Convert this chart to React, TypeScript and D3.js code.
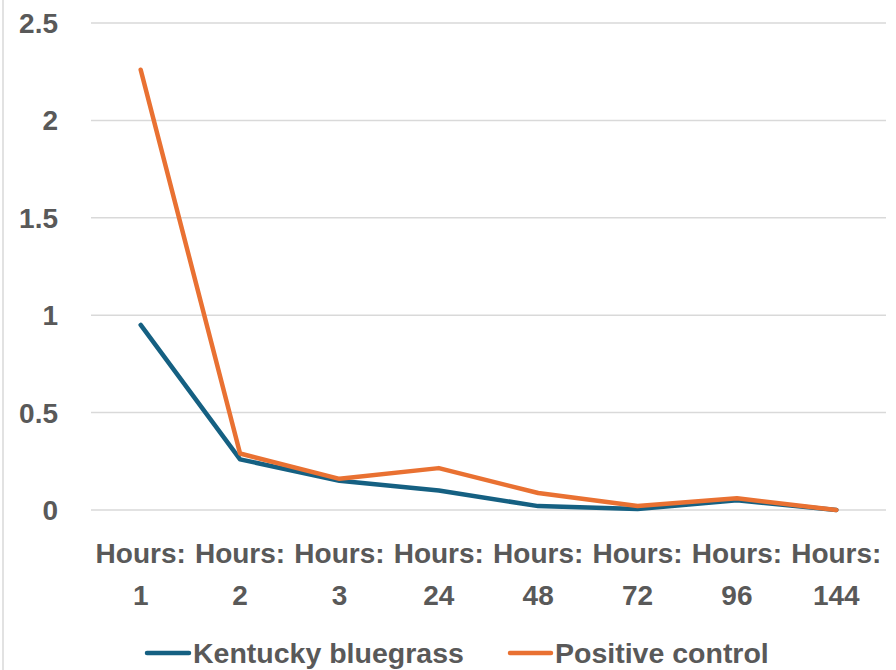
import React from "react";
import * as d3 from "d3";

const categories = ["1", "2", "3", "24", "48", "72", "96", "144"];
const kentucky = [0.95, 0.26, 0.15, 0.1, 0.02, 0.005, 0.05, 0.0];
const positive = [2.26, 0.29, 0.16, 0.215, 0.087, 0.02, 0.06, 0.0];
const yTicks = [0, 0.5, 1, 1.5, 2, 2.5];
const seriesNames = ["Kentucky bluegrass", "Positive control"];
const colors = ["#156082", "#E97132"];

export default function App() {
  const W = 896, H = 670;
  const left = 91, right = 886, top = 23, bottom = 510;
  const x = d3.scaleBand<string>().domain(categories).range([left, right]);
  const y = d3.scaleLinear().domain([0, 2.5]).range([bottom, top]);
  const line = d3
    .line<number>()
    .x((_, i) => (x(categories[i]) as number) + x.bandwidth() / 2)
    .y((d) => y(d));
  const font = "'Liberation Sans', Arial, sans-serif";
  const txt = "#595959";
  const series = [kentucky, positive];
  return (
    <svg width={W} height={H} style={{ position: "absolute", left: 0, top: 0, background: "#fff" }}>
      <line x1={3} x2={3} y1={0} y2={H} stroke="#d9d9d9" strokeWidth={1.5} />
      {yTicks.map((t) => (
        <g key={t}>
          <line x1={left} x2={right} y1={y(t)} y2={y(t)} stroke="#d9d9d9" strokeWidth={1.5} />
          <text x={58} y={y(t)} dy="0.36em" textAnchor="end" fontFamily={font} fontWeight="bold" fontSize={28} fill={txt}>
            {t}
          </text>
        </g>
      ))}
      {categories.map((c) => {
        const cx = (x(c) as number) + x.bandwidth() / 2;
        return (
          <g key={c} fontFamily={font} fontWeight="bold" fontSize={28} fill={txt} textAnchor="middle">
            <text x={cx} y={563}>Hours:</text>
            <text x={cx} y={605}>{c}</text>
          </g>
        );
      })}
      {series.map((s, i) => (
        <path key={i} d={line(s) || ""} fill="none" stroke={colors[i]} strokeWidth={4.5} strokeLinejoin="round" strokeLinecap="round" />
      ))}
      {[
        { x0: 147, x1: 189, tx: 193 },
        { x0: 510, x1: 551, tx: 555 },
      ].map((l, i) => (
        <g key={i}>
          <line x1={l.x0} x2={l.x1} y1={653} y2={653} stroke={colors[i]} strokeWidth={4.5} strokeLinecap="round" />
          <text x={l.tx} y={653} dy="0.36em" fontFamily={font} fontWeight="bold" fontSize={28.5} fill={txt}>
            {seriesNames[i]}
          </text>
        </g>
      ))}
    </svg>
  );
}
